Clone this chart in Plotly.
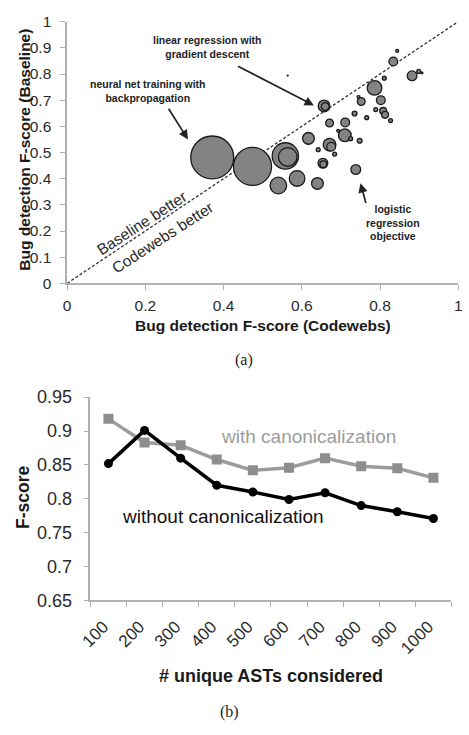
import plotly.graph_objects as go

W, H = 469, 735

# ---------------- Panel (a): bubble chart ----------------
codewebs_f = [0.371, 0.474, 0.558, 0.564, 0.540, 0.588, 0.640, 0.617, 0.654, 0.655,
              0.671, 0.675, 0.642, 0.684, 0.671, 0.711, 0.710, 0.693, 0.725, 0.748,
              0.735, 0.766, 0.738, 0.657, 0.660, 0.752, 0.745, 0.786, 0.811, 0.802,
              0.789, 0.808, 0.813, 0.827, 0.834, 0.844, 0.882, 0.899, 0.907, 0.564]
baseline_f = [0.481, 0.447, 0.487, 0.483, 0.374, 0.401, 0.382, 0.554, 0.459, 0.455,
              0.530, 0.522, 0.511, 0.494, 0.613, 0.615, 0.566, 0.583, 0.553, 0.545,
              0.649, 0.633, 0.435, 0.678, 0.676, 0.695, 0.712, 0.747, 0.784, 0.700,
              0.664, 0.659, 0.644, 0.622, 0.848, 0.888, 0.793, 0.810, 0.804, 0.794]
# relative bubble area (cluster weight)
cluster_weight = [1936, 1521, 729, 361, 289, 256, 144, 144, 100, 49,
                  169, 81, 16, 16, 64, 81, 169, 9, 16, 25,
                  25, 16, 100, 144, 64, 64, 9, 225, 16, 81,
                  16, 49, 49, 16, 81, 9, 100, 16, 4, 1]

diag_x = [0, 1]
diag_y = [0, 1]
x1_ticks = [0, 0.2, 0.4, 0.6, 0.8, 1]
x1_ticktext = ["0", "0.2", "0.4", "0.6", "0.8", "1"]
y1_ticks = [0, 0.1, 0.2, 0.3, 0.4, 0.5, 0.6, 0.7, 0.8, 0.9, 1]
y1_ticktext = ["0", "0.1", "0.2", "0.3", "0.4", "0.5", "0.6", "0.7", "0.8", "0.9", "1"]

# ---------------- Panel (b): line chart ----------------
n_asts = ["100", "200", "300", "400", "500", "600", "700", "800", "900", "1000"]
f_with = [0.918, 0.883, 0.879, 0.858, 0.842, 0.846, 0.860, 0.848, 0.845, 0.831]
f_without = [0.852, 0.901, 0.860, 0.820, 0.810, 0.799, 0.809, 0.790, 0.781, 0.771]
y2_ticks = [0.65, 0.7, 0.75, 0.8, 0.85, 0.9, 0.95]
y2_ticktext = ["0.65", "0.7", "0.75", "0.8", "0.85", "0.9", "0.95"]


def px(x):
    return x / W


def py(y):
    return 1 - y / H


SANS = "Liberation Sans, Arial, sans-serif"
SERIF = "Liberation Serif, DejaVu Serif, serif"

fig = go.Figure()

fig.add_trace(go.Scatter(
    x=diag_x, y=diag_y, mode="lines", xaxis="x", yaxis="y",
    line=dict(color="#333333", width=1.3, dash="3px,2px"),
    hoverinfo="skip", showlegend=False))

order = sorted(range(len(cluster_weight)), key=lambda i: -cluster_weight[i])
fig.add_trace(go.Scatter(
    x=[codewebs_f[i] for i in order],
    y=[baseline_f[i] for i in order],
    mode="markers", xaxis="x", yaxis="y",
    marker=dict(size=[cluster_weight[i] for i in order], sizemode="area", sizeref=2.1,
                color="#838383", opacity=1,
                line=dict(color="#1a1a1a", width=1.3)),
    showlegend=False))

fig.add_trace(go.Scatter(
    x=n_asts, y=f_with, mode="lines+markers", xaxis="x2", yaxis="y2",
    line=dict(color="#9c9c9c", width=3.5),
    marker=dict(symbol="square", size=10, color="#8e8e8e",
                line=dict(color="#8e8e8e", width=0)),
    showlegend=False))
fig.add_trace(go.Scatter(
    x=n_asts, y=f_without, mode="lines+markers", xaxis="x2", yaxis="y2",
    line=dict(color="#000000", width=3.5),
    marker=dict(symbol="circle", size=9, color="#000000"),
    showlegend=False))

axis_common = dict(showgrid=False, zeroline=False, showline=True,
                   linecolor="#b0b0b0", linewidth=1.5, ticks="outside",
                   ticklen=5, tickwidth=1.2, tickcolor="#b0b0b0")

fig.update_layout(
    width=W, height=H, margin=dict(l=0, r=0, t=0, b=0),
    paper_bgcolor="white", plot_bgcolor="white",
    font=dict(family=SANS, color="#222222"),
    xaxis=dict(domain=[px(58), px(462)], range=[0, 1], anchor="y",
               tickvals=x1_ticks, ticktext=x1_ticktext,
               tickfont=dict(size=15.5, color="#2a2a2a"), ticklabelstandoff=2,
               **axis_common),
    yaxis=dict(domain=[py(281), py(12)], range=[0, 1], anchor="x",
               tickvals=y1_ticks, ticktext=y1_ticktext,
               tickfont=dict(size=15.5, color="#2a2a2a"), ticklabelstandoff=6,
               **axis_common),
    xaxis2=dict(domain=[px(82), px(455)], type="category", anchor="y2",
                range=[-0.5, 9.5], tickson="boundaries", tickangle=-45,
                tickfont=dict(size=17, color="#2a2a2a"),
                ticklabelstandoff=8, ticklabelshift=-5,
                **axis_common),
    yaxis2=dict(domain=[py(607), py(398)], range=[0.65, 0.95], anchor="x2",
                tickvals=y2_ticks, ticktext=y2_ticktext,
                tickfont=dict(size=18, color="#2a2a2a"), ticklabelstandoff=8,
                **axis_common),
)

C = dict(xanchor="center", yanchor="middle")
ann = []
# axis titles & panel labels
ann.append(dict(text="<b>Bug detection F-score (Codewebs)</b>", x=px(260), y=py(324),
                xref="paper", yref="paper", showarrow=False,
                font=dict(size=15.5, family=SANS, color="#1a1a1a"), **C))
ann.append(dict(text="<b>Bug detection F-score (Baseline)</b>", x=px(14), y=py(144),
                xref="paper", yref="paper", showarrow=False, textangle=-90,
                font=dict(size=15.5, family=SANS, color="#1a1a1a"), **C))
ann.append(dict(text="(a)", x=px(241), y=py(360), xref="paper", yref="paper",
                showarrow=False, font=dict(size=16, family=SERIF, color="#222"), **C))
ann.append(dict(text="<b>F-score</b>", x=px(13), y=py(501),
                xref="paper", yref="paper", showarrow=False, textangle=-90,
                font=dict(size=17.5, family=SANS, color="#1a1a1a"), **C))
ann.append(dict(text="<b># unique ASTs considered</b>", x=px(269), y=py(685),
                xref="paper", yref="paper", showarrow=False,
                font=dict(size=18, family=SANS, color="#1a1a1a"), **C))
ann.append(dict(text="(b)", x=px(226), y=py(722), xref="paper", yref="paper",
                showarrow=False, font=dict(size=16, family=SERIF, color="#222"), **C))

# panel (a) callouts
ann.append(dict(text="<b>linear regression with<br>gradient descent</b>", x=0.359, y=0.903,
                xref="x", yref="y", showarrow=False,
                font=dict(size=10.5, family=SANS, color="#222"), **C))
ann.append(dict(text="<b>neural net training with<br>backpropagation</b>", x=0.208, y=0.734,
                xref="x", yref="y", showarrow=False,
                font=dict(size=10.5, family=SANS, color="#222"), **C))
ann.append(dict(text="<b>logistic<br>regression<br>objective</b>", x=0.832, y=0.234,
                xref="x", yref="y", showarrow=False,
                font=dict(size=10.5, family=SANS, color="#222"), **C))
for (hx, hy, tx, ty) in [(0.631, 0.680, 0.433, 0.833),
                         (0.309, 0.550, 0.257, 0.673),
                         (0.750, 0.383, 0.765, 0.301)]:
    ann.append(dict(text="", x=hx, y=hy, ax=tx, ay=ty, xref="x", yref="y",
                    axref="x", ayref="y", showarrow=True, arrowhead=2,
                    arrowsize=1.1, arrowwidth=1.7, arrowcolor="#222", standoff=0))
ann.append(dict(text="Baseline better", x=0.189, y=0.230, xref="x", yref="y",
                showarrow=False, textangle=-33,
                font=dict(size=15.5, family=SANS, color="#2a2a2a"), **C))
ann.append(dict(text="Codewebs better", x=0.244, y=0.175, xref="x", yref="y",
                showarrow=False, textangle=-33,
                font=dict(size=15.5, family=SANS, color="#2a2a2a"), **C))

# panel (b) inline labels
ann.append(dict(text="with canonicalization", x=5.53, y=0.8926, xref="x2", yref="y2",
                showarrow=False, font=dict(size=19, family=SANS, color="#9c9c9c"), **C))
ann.append(dict(text="without canonicalization", x=3.18, y=0.7734, xref="x2", yref="y2",
                showarrow=False, font=dict(size=19, family=SANS, color="#111111"), **C))

fig.update_layout(annotations=ann)
fig.write_html("out.html")
